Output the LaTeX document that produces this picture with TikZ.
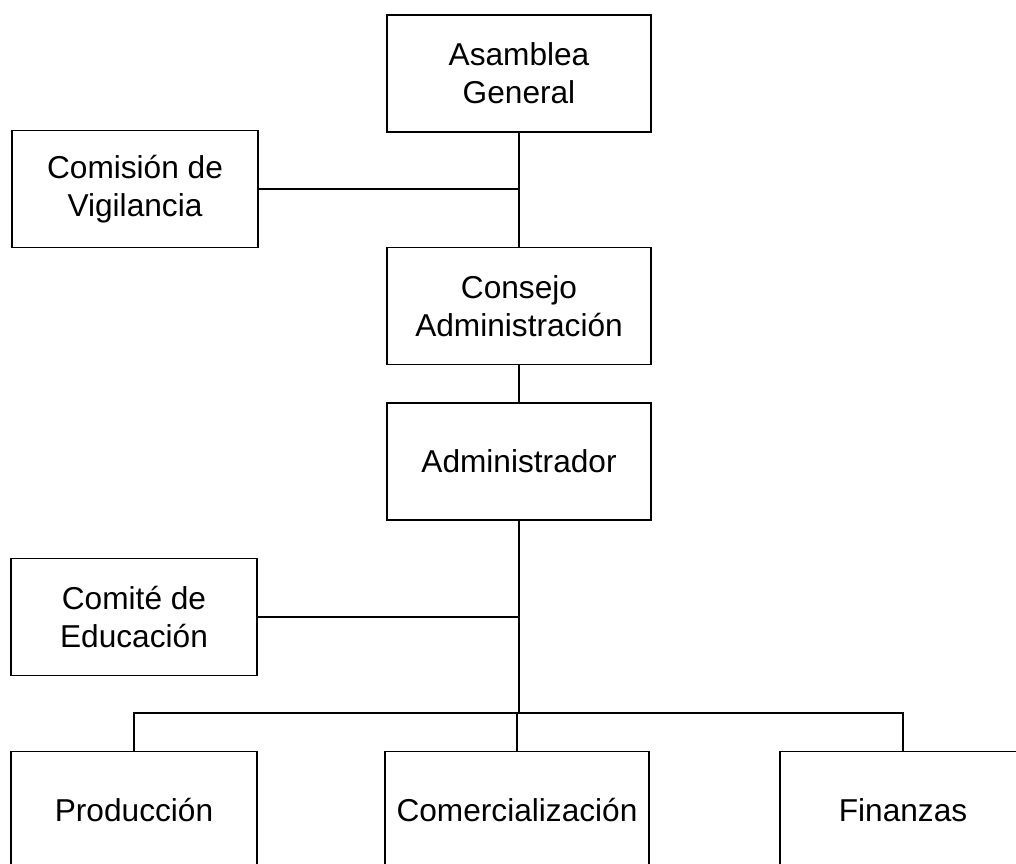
\documentclass[tikz,border=0pt]{standalone}
\usepackage{fontspec}
\setmainfont{Liberation Sans}
\tikzset{
  caja/.style={draw, line width=1.1pt, align=center, inner sep=0pt,
    minimum height=2.925cm, font=\fontsize{22.5}{27}\selectfont},
  ancha/.style={caja, minimum width=6.6cm},
  angosta/.style={caja, minimum width=6.15cm},
  linea/.style={line width=1.1pt}
}
\begin{document}
\begin{tikzpicture}[x=0.025cm, y=-0.025cm]
			\useasboundingbox (0,0) rectangle (1016,863);
			\node (ag)[ancha] at (519,73.5) {Asamblea\\ General};
			\node (cv)[angosta] at (135,189) {Comisión de\\ Vigilancia};
			\node (ca)[ancha] at (519,306) {Consejo\\ Administración};
			\node (ad)[ancha] at (519,461.5) {Administrador};
			\node (ce)[angosta] at (134,617) {Comité de\\ Educación};
			\node (pr)[angosta] at (134,810) {Producción};
			\node (co)[ancha] at (517,810) {Comercialización};
			\node (fi)[angosta] at (903,810) {Finanzas};
			\coordinate (bus) at (517,713);

			\draw[linea] (ag.south)--(ca.north);
			\draw[linea] (ca.south)--(ad.north);
			\draw[linea] (ad.south)--(ad.south |- bus);
			\draw[linea] (cv.east)--(cv.east -| ag.south);
			\draw[linea] (ce.east)--(ce.east -| ad.south);
			\draw[linea] (pr.north)--(pr.north |- bus)--(fi.north |- bus)--(fi.north);
			\draw[linea] (bus)--(co.north);
		\end{tikzpicture}
\end{document}
